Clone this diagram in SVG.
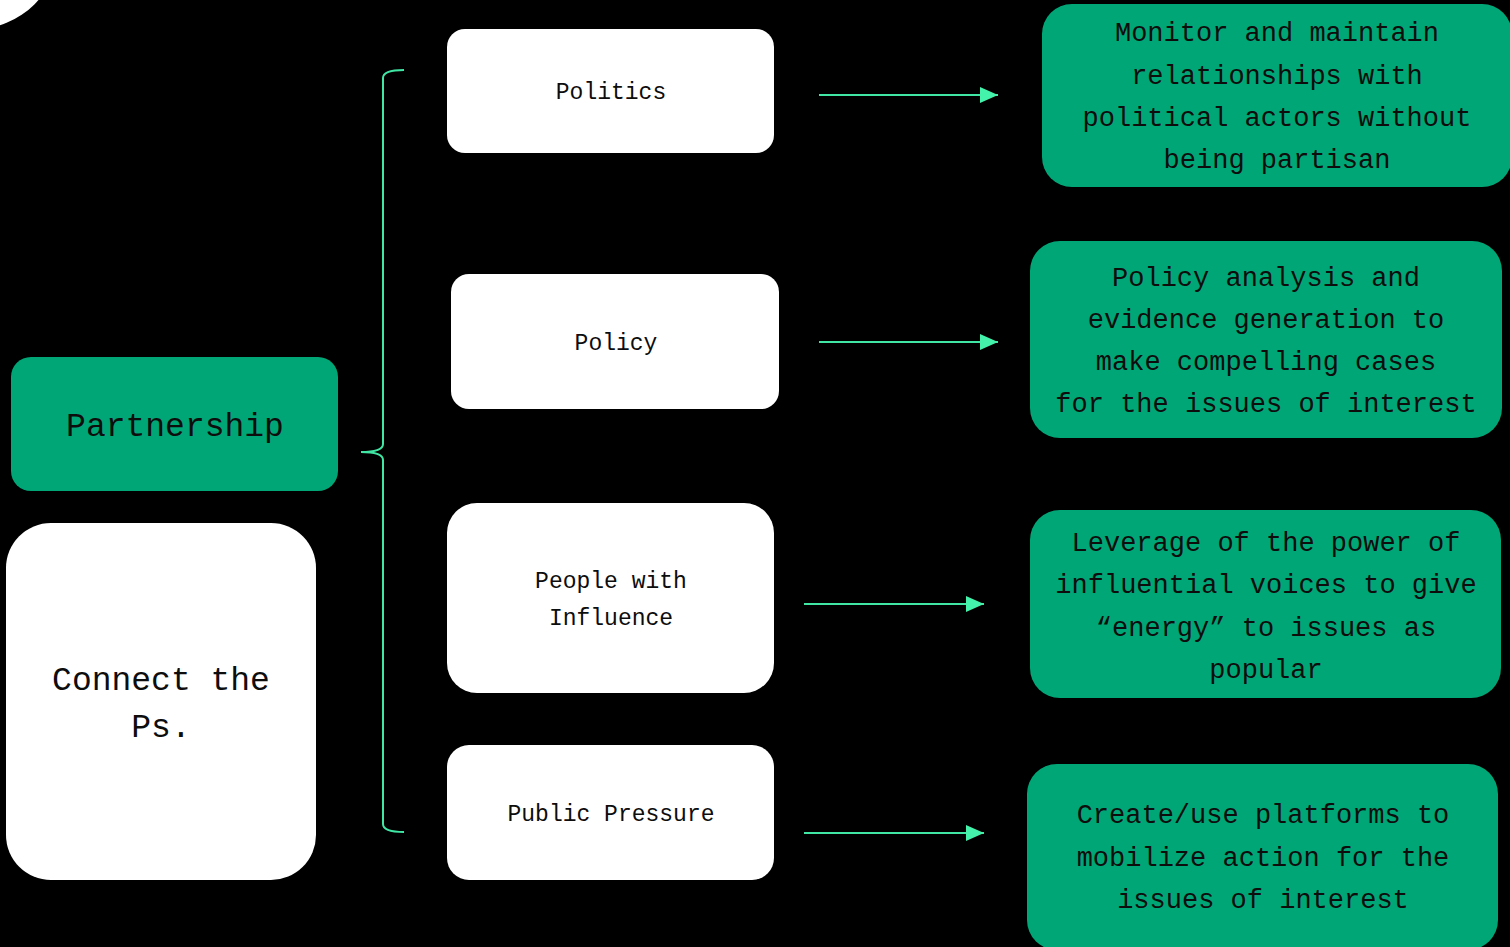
<svg xmlns="http://www.w3.org/2000/svg" width="1510" height="947" viewBox="0 0 1510 947">
<style>
.white{fill:#ffffff}
.green{fill:#00a676}
text{font-family:"Liberation Mono","DejaVu Sans Mono",monospace;fill:#0d0d0d;text-anchor:middle}
.s{font-size:23px}
.m{font-size:27px}
.l{font-size:33px}
.conn{stroke:#3fe6a4;stroke-width:2;fill:none}
</style>
<defs>
<marker id="arrBig" viewBox="0 0 18 16" refX="18" refY="8" markerWidth="18" markerHeight="16" markerUnits="userSpaceOnUse" orient="auto">
<path d="M0,0 L18,8 L0,16 Z" fill="#45f2ac"/>
</marker>
</defs>
<rect width="1510" height="947" fill="#000"/>
<circle cx="-25" cy="-55" r="84" class="white"/>

<g id="partnership">
<rect x="11" y="357" width="327" height="134" rx="20" class="green"/>
<text x="175" y="436" class="l">Partnership</text>
</g>
<g id="connect">
<rect x="6" y="523" width="310" height="357" rx="45" class="white"/>
<text x="161" y="690" class="l">Connect the</text>
<text x="161" y="737" class="l">Ps.</text>
</g>

<g id="politics">
<rect x="447" y="29" width="327" height="124" rx="18" class="white"/>
<text x="611" y="99" class="s">Politics</text>
</g>
<g id="policy">
<rect x="451" y="274" width="328" height="135" rx="18" class="white"/>
<text x="616" y="350" class="s">Policy</text>
</g>
<g id="people">
<rect x="447" y="503" width="327" height="190" rx="30" class="white"/>
<text x="611" y="588" class="s">People with</text>
<text x="611" y="625" class="s">Influence</text>
</g>
<g id="public">
<rect x="447" y="745" width="327" height="135" rx="22" class="white"/>
<text x="611" y="821" class="s">Public Pressure</text>
</g>

<g id="desc-politics">
<rect x="1042" y="4" width="470" height="183" rx="30" class="green"/>
<text x="1277" y="41" class="m">Monitor and maintain</text>
<text x="1277" y="84" class="m">relationships with</text>
<text x="1277" y="126" class="m">political actors without</text>
<text x="1277" y="168" class="m">being partisan</text>
</g>
<g id="desc-policy">
<rect x="1030" y="241" width="472" height="197" rx="30" class="green"/>
<text x="1266" y="286" class="m">Policy analysis and</text>
<text x="1266" y="328" class="m">evidence generation to</text>
<text x="1266" y="370" class="m">make compelling cases</text>
<text x="1266" y="412" class="m">for the issues of interest</text>
</g>
<g id="desc-people">
<rect x="1030" y="510" width="471" height="188" rx="30" class="green"/>
<text x="1266" y="551" class="m">Leverage of the power of</text>
<text x="1266" y="593" class="m">influential voices to give</text>
<text x="1266" y="636" class="m">“energy” to issues as</text>
<text x="1266" y="678" class="m">popular</text>
</g>
<g id="desc-public">
<rect x="1027" y="764" width="471" height="186" rx="30" class="green"/>
<text x="1263" y="823" class="m">Create/use platforms to</text>
<text x="1263" y="866" class="m">mobilize action for the</text>
<text x="1263" y="908" class="m">issues of interest</text>
</g>

<g id="connectors">
<path class="conn" d="M404,70 Q383,70 383,78 L383,444 Q383,452 361,452 Q383,452 383,460 L383,824 Q383,832 404,832"/>
<line class="conn" x1="819" y1="95" x2="998" y2="95" marker-end="url(#arrBig)"/>
<line class="conn" x1="819" y1="342" x2="998" y2="342" marker-end="url(#arrBig)"/>
<line class="conn" x1="804" y1="604" x2="984" y2="604" marker-end="url(#arrBig)"/>
<line class="conn" x1="804" y1="833" x2="984" y2="833" marker-end="url(#arrBig)"/>
</g>
</svg>
